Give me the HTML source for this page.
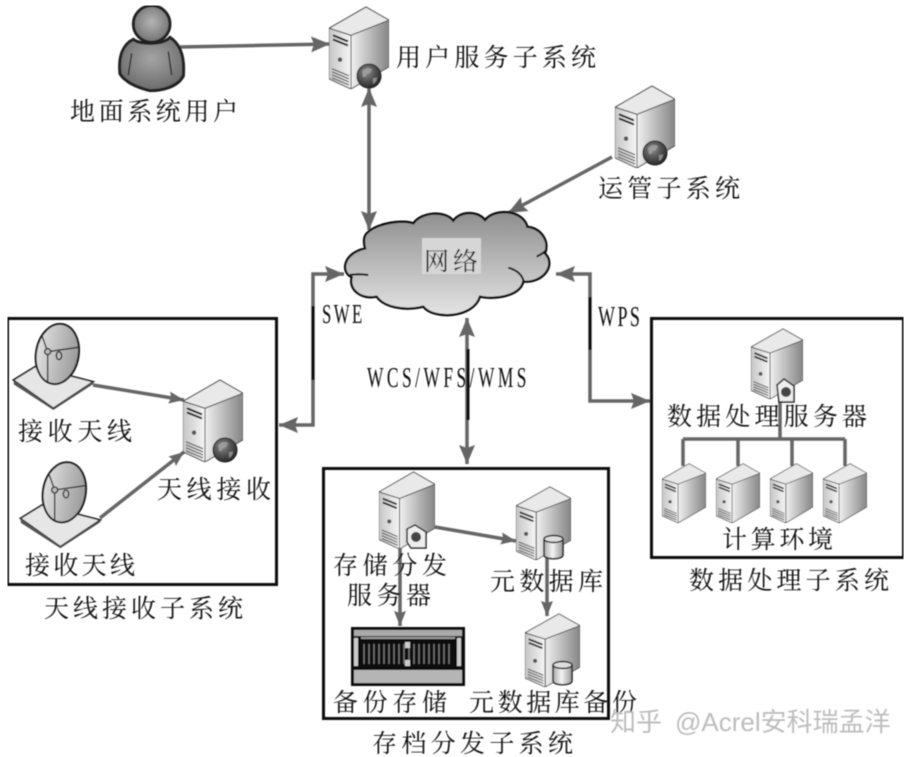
<!DOCTYPE html>
<html><head><meta charset="utf-8"><style>
html,body{margin:0;padding:0;background:#fff;width:912px;height:757px;overflow:hidden}
svg{display:block}
text{font-family:"Liberation Serif","Noto Serif CJK SC",serif;fill:#0c0c0c;font-size:25px}
.l{font-family:"Liberation Serif",serif}
</style></head><body>
<svg width="912" height="757" viewBox="0 0 912 757" xmlns="http://www.w3.org/2000/svg">
<defs>
<filter id="b" x="0" y="0" width="100%" height="100%"><feGaussianBlur stdDeviation="0.45"/></filter>
<linearGradient id="side" x1="0" y1="0" x2="1" y2="0"><stop offset="0" stop-color="#f0f0f0"/><stop offset="1" stop-color="#858585"/></linearGradient>
<linearGradient id="front" x1="0" y1="0" x2="1" y2="0"><stop offset="0" stop-color="#c6c6c6"/><stop offset="1" stop-color="#f6f6f6"/></linearGradient>
<linearGradient id="cl" x1="0" y1="0" x2="0" y2="1"><stop offset="0" stop-color="#8e8e8e"/><stop offset="1" stop-color="#e4e4e4"/></linearGradient>
<radialGradient id="head" cx=".5" cy=".45" r=".6"><stop offset="0" stop-color="#b4b4b4"/><stop offset="1" stop-color="#6c6c6c"/></radialGradient>
<radialGradient id="body" cx=".5" cy=".4" r=".65"><stop offset="0" stop-color="#a4a4a4"/><stop offset="1" stop-color="#666"/></radialGradient>
<linearGradient id="dish" x1="0" y1="0" x2="1" y2="0"><stop offset="0" stop-color="#e0e0e0"/><stop offset="1" stop-color="#9a9a9a"/></linearGradient>
<linearGradient id="disk" x1="0" y1="0" x2="1" y2="0"><stop offset="0" stop-color="#aaa"/><stop offset=".45" stop-color="#f4f4f4"/><stop offset="1" stop-color="#999"/></linearGradient>
<radialGradient id="globe" cx=".4" cy=".35" r=".7"><stop offset="0" stop-color="#888"/><stop offset="1" stop-color="#222"/></radialGradient>
<symbol id="srv" viewBox="0 0 60 82" preserveAspectRatio="none">
<path d="M0,22 L37,1 L60,14 L22,29 Z" fill="#e9e9e9" stroke="#444" stroke-width="1"/>
<path d="M22,29 L60,14 L60,60 L22,82 Z" fill="url(#side)" stroke="#555" stroke-width="1"/>
<path d="M0,22 L22,29 L22,82 L0,72 Z" fill="url(#front)" stroke="#444" stroke-width="1"/>
<path d="M4,29 L19,35 M4,33 L19,39" stroke="#222" stroke-width="2" fill="none"/>
<circle cx="11" cy="53" r="2.2" fill="#555"/>
<path d="M3,62 L20,69 M3,65 L20,72 M3,68 L20,75 M3,71 L20,78" stroke="#555" stroke-width="1.2" fill="none"/>
</symbol>
<marker id="a" markerUnits="userSpaceOnUse" markerWidth="20" markerHeight="18" refX="19" refY="9" orient="auto-start-reverse"><path d="M0,1 L19,9 L0,17 L3,9 Z" fill="#666"/></marker>
<marker id="s" markerUnits="userSpaceOnUse" markerWidth="16" markerHeight="14" refX="15" refY="7" orient="auto-start-reverse"><path d="M0,1 L15,7 L0,13 L2,7 Z" fill="#666"/></marker>
<g id="ant">
<path d="M40,210 L105,170 L280,215 L160,295 Z" fill="#e6e6e6" stroke="#222" stroke-width="5"/>
<path d="M40,210 L42,224 L160,300 L280,222 L280,215 L160,295 Z" fill="#555"/>
<ellipse cx="172" cy="132" rx="64" ry="91" transform="rotate(10 172 132)" fill="url(#dish)" stroke="#1a1a1a" stroke-width="6"/>
<path d="M127,80 L143,125 L143,218 M143,125 L235,112" fill="none" stroke="#222" stroke-width="4"/>
<circle cx="143" cy="125" r="9" fill="#bbb" stroke="#222" stroke-width="4"/>
<ellipse cx="177" cy="137" rx="8" ry="12" fill="#bbb" stroke="#222" stroke-width="4"/>
</g>
</defs>

<rect width="912" height="757" fill="#fff"/>
<g filter="url(#b)">
<!-- boxes -->
<rect x="7.500" y="318.500" width="269" height="266" fill="none" stroke="#111" stroke-width="3"/>
<rect x="323.500" y="468.500" width="285" height="250" fill="none" stroke="#111" stroke-width="3"/>
<rect x="651.500" y="318.500" width="252" height="239" fill="none" stroke="#111" stroke-width="3"/>

<!-- connectors -->
<g fill="none" stroke="#666" stroke-width="3.500">
<path d="M180,47 L330,44" marker-end="url(#a)"/>
<path d="M369,88 L369,230" marker-start="url(#a)" marker-end="url(#a)"/>
<path d="M612,157 L508,213" marker-end="url(#a)"/>
<path d="M344,274 L313,274 L313,425 L279,425" marker-start="url(#a)" marker-end="url(#a)"/>
<path d="M467,318 L467,464" marker-start="url(#a)" marker-end="url(#a)"/>
<path d="M556,274 L590,274 L590,401 L650,401" marker-start="url(#a)" marker-end="url(#a)"/>
<path d="M93,385 L184,400" marker-end="url(#s)"/>
<path d="M100,518 L184,452" marker-end="url(#s)"/>
<path d="M435,527 L516,541" marker-end="url(#s)"/>
<path d="M400,545 L400,626" marker-end="url(#s)"/>
<path d="M547,555 L547,616" marker-end="url(#s)"/>
<path d="M780,395 L780,439 M683,439 L845,439 M683,439 L683,466 M738,439 L738,466 M792,439 L792,466 M845,439 L845,466"/>
</g>
<path d="M313,306 V380 M468,349 V420 M590,297 V350" stroke="#0a0a0a" stroke-width="3" fill="none"/>

<!-- person -->
<g transform="translate(90,0) scale(.3333)">
<path d="M130,118 C95,135 85,175 90,222 C105,245 140,262 180,272 C215,272 262,262 280,228 C284,180 275,135 240,112 C220,135 150,135 130,118 Z" fill="url(#body)" stroke="#222" stroke-width="9"/>
<path d="M125,160 L115,225 M235,155 L245,225" stroke="#222" stroke-width="4" fill="none"/>
<circle cx="185" cy="72" r="55" fill="url(#head)" stroke="#222" stroke-width="9"/>
</g>

<!-- cloud -->
<g transform="translate(330,200) scale(.3333)">
<path d="M110,100 C140,68 220,58 250,70 C275,35 345,30 370,62 C390,32 445,32 465,60 C495,22 580,30 592,80 C635,85 660,125 645,160 C680,195 640,250 580,245 C570,290 490,300 450,290 C430,355 310,360 280,320 C220,335 160,320 140,290 C95,300 55,270 65,232 C30,215 40,160 105,145 C100,125 100,110 110,100 Z" fill="url(#cl)" stroke="#111" stroke-width="7"/>
<path d="M60,225 C75,222 95,222 115,225 M535,203 C560,210 578,225 582,248 M650,150 C640,160 630,165 620,170" fill="none" stroke="#111" stroke-width="6"/>
</g>
<rect x="422" y="238" width="59" height="36" fill="#d6d6d6"/>

<!-- servers -->
<use href="#srv" x="329" y="6" width="60" height="83"/>
<use href="#srv" x="615" y="85" width="60" height="83"/>
<use href="#srv" x="183" y="379" width="60" height="83"/>
<use href="#srv" x="379" y="471" width="56" height="78"/>
<use href="#srv" x="516" y="486" width="55" height="74"/>
<use href="#srv" x="525" y="613" width="55" height="74"/>
<use href="#srv" x="751" y="328" width="52" height="71"/>
<use href="#srv" x="662" y="463" width="44" height="60"/>
<use href="#srv" x="716" y="463" width="44" height="60"/>
<use href="#srv" x="770" y="463" width="43" height="60"/>
<use href="#srv" x="823" y="463" width="44" height="60"/>

<!-- globes -->
<g fill="url(#globe)" stroke="#222" stroke-width="1">
<circle cx="369" cy="76" r="12"/><circle cx="655" cy="153" r="12"/><circle cx="225" cy="450" r="12"/>
</g>
<g fill="#aaa" opacity=".7">
<path d="M362,71 q5,-5 10,-2 q-1,5 -5,5 q-1,4 -4,3 z M373,78 q3,0 4,-1 q0,5 -4,7 z"/>
<path d="M648,148 q5,-5 10,-2 q-1,5 -5,5 q-1,4 -4,3 z M659,155 q3,0 4,-1 q0,5 -4,7 z"/>
<path d="M218,445 q5,-5 10,-2 q-1,5 -5,5 q-1,4 -4,3 z M229,452 q3,0 4,-1 q0,5 -4,7 z"/>
</g>
<!-- doc badges -->
<path d="M407,529 L415,525 L426,532 L426,548 L411,548 L407,542 Z" fill="#eee" stroke="#222" stroke-width="1.500"/>
<circle cx="416" cy="537" r="5" fill="#444"/>
<path d="M777,385 L784,379 L794,386 L794,402 L779,402 Z" fill="#eee" stroke="#222" stroke-width="1.500"/>
<circle cx="786" cy="392" r="5" fill="#444"/>
<!-- disks -->
<g stroke="#222" stroke-width="1.500">
<path d="M544,540 V555 C544,560 563,560 563,555 V540 Z" fill="url(#disk)"/><ellipse cx="553.500" cy="539" rx="9.500" ry="3.500" fill="#ddd"/>
<path d="M553,666 V681 C553,686 572,686 572,681 V666 Z" fill="url(#disk)"/><ellipse cx="562.500" cy="665" rx="9.500" ry="3.500" fill="#ddd"/>
</g>

<!-- antennas -->
<g transform="translate(0,310) scale(.3333)">
<use href="#ant"/>
<use href="#ant" x="21" y="415"/>
</g>

<!-- storage device -->
<rect x="352" y="628" width="112" height="57" fill="#111" stroke="#111" stroke-width="2"/>
<rect x="354" y="630" width="108" height="6" fill="#aaa"/>
<rect x="354" y="670" width="108" height="13" fill="#b5b5b5"/>
<rect x="354" y="638" width="4" height="28" fill="#ccc"/>
<rect x="457" y="638" width="4" height="28" fill="#ccc"/>
<rect x="361" y="637" width="94" height="2" fill="#999"/>
<path d="M364,644 V664 M369,644 V664 M374,644 V664 M379,644 V664 M384,644 V664 M389,644 V664 M394,644 V664 M399,644 V664 M404,644 V664 M409,644 V664 M414,644 V664 M419,644 V664 M424,644 V664 M429,644 V664 M434,644 V664 M439,644 V664 M444,644 V664 M449,644 V664" stroke="#777" stroke-width="1.400"/>
<rect x="405" y="642" width="5" height="6" fill="#ccc"/><rect x="405" y="660" width="5" height="6" fill="#ccc"/>

<!-- labels -->
<text x="70" y="120" textLength="168" lengthAdjust="spacing">地面系统用户</text>
<text x="396" y="66" textLength="200" lengthAdjust="spacing">用户服务子系统</text>
<text x="598" y="197" textLength="142" lengthAdjust="spacing">运管子系统</text>
<text x="424" y="270" textLength="54" lengthAdjust="spacing">网络</text>
<text class="l" transform="translate(322,323) scale(.62,1)" style="font-size:27px;letter-spacing:4px">SWE</text>
<text class="l" transform="translate(367,387) scale(.6,1)" style="font-size:29px;letter-spacing:5.800px">WCS/WFS/WMS</text>
<text class="l" transform="translate(598,326) scale(.62,1)" style="font-size:29px;letter-spacing:4px">WPS</text>
<text x="18" y="440" textLength="114" lengthAdjust="spacing">接收天线</text>
<text x="25" y="574" textLength="110" lengthAdjust="spacing">接收天线</text>
<text x="157" y="498" textLength="114" lengthAdjust="spacing">天线接收</text>
<text x="44" y="617" textLength="199" lengthAdjust="spacing">天线接收子系统</text>
<text x="333" y="574" textLength="114" lengthAdjust="spacing">存储分发</text>
<text x="347" y="604" textLength="84" lengthAdjust="spacing">服务器</text>
<text x="490" y="590" textLength="113" lengthAdjust="spacing">元数据库</text>
<text x="333" y="711" textLength="114" lengthAdjust="spacing">备份存储</text>
<text x="469" y="711" textLength="168" lengthAdjust="spacing">元数据库备份</text>
<text x="372" y="752" textLength="201" lengthAdjust="spacing">存档分发子系统</text>
<text x="667" y="425" textLength="200" lengthAdjust="spacing">数据处理服务器</text>
<text x="722" y="548" textLength="111" lengthAdjust="spacing">计算环境</text>
<text x="689" y="589" textLength="200" lengthAdjust="spacing">数据处理子系统</text>
<text x="610" y="731" style="font-family:'Liberation Sans','Noto Sans CJK SC',sans-serif;font-size:26px;fill:#bdbdbd">知乎</text>
<text x="675" y="731" style="font-family:'Liberation Sans','Noto Sans CJK SC',sans-serif;font-size:26px;fill:#bdbdbd">@Acrel安科瑞孟洋</text>
</g>
</svg>
</body></html>
